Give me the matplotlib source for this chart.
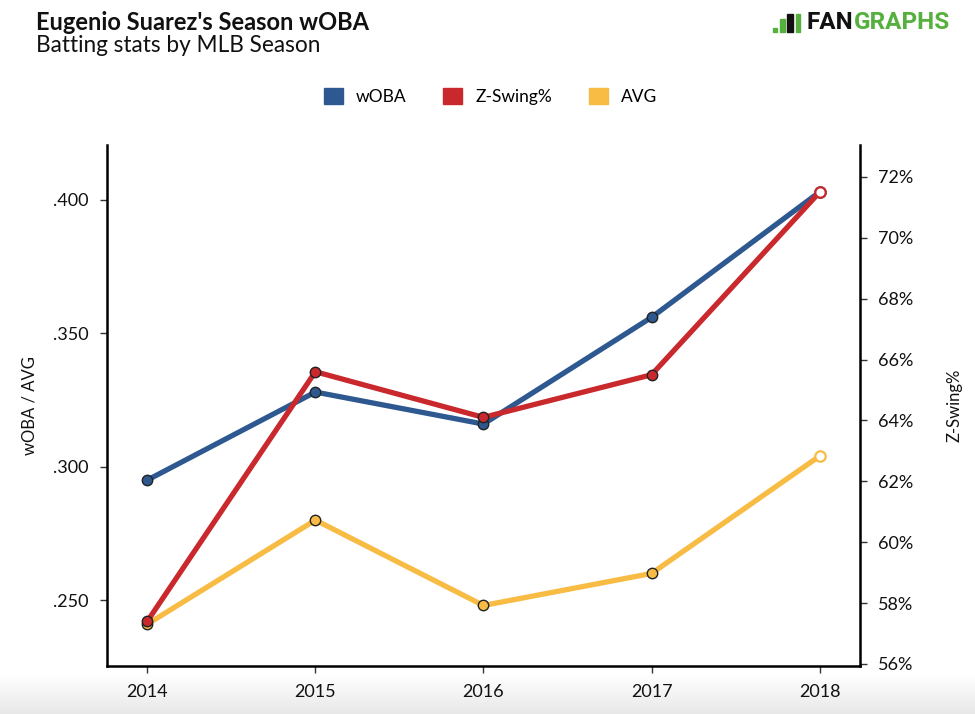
import matplotlib
matplotlib.use("Agg")
import matplotlib.pyplot as plt
import numpy as np
from matplotlib.ticker import FuncFormatter, FixedLocator
from matplotlib.patches import Rectangle
from matplotlib.colors import LinearSegmentedColormap

seasons = [2014, 2015, 2016, 2017, 2018]
woba = [0.295, 0.328, 0.316, 0.356, 0.403]
avg = [0.241, 0.280, 0.248, 0.260, 0.304]
zswing = [57.4, 65.6, 64.1, 65.5, 71.5]

left_ticks = [0.250, 0.300, 0.350, 0.400]
right_ticks = [56, 58, 60, 62, 64, 66, 68, 70, 72]

C_BLUE = "#2d5890"
C_RED = "#c9282d"
C_YEL = "#f8bb44"

plt.rcParams['font.family'] = ['Lato', 'DejaVu Sans']

fig = plt.figure(figsize=(9.75, 7.14), dpi=100)

# bottom grey band (screenshot edge)
bg = fig.add_axes([0, 0, 1, 0.055], zorder=-5)
cm = LinearSegmentedColormap.from_list("g", ["#ffffff", "#e8e8e8"])
grad = np.linspace(0.0, 1.0, 50).reshape(-1, 1)
bg.imshow(grad, aspect='auto', cmap=cm, vmin=0, vmax=1, extent=[0, 1, 0, 1])
bg.axis('off')

ax = fig.add_axes([0.1097, 0.0672, 0.7723, 0.7297])
ax.patch.set_alpha(0)
ax2 = ax.twinx()

def draw(a, y, color):
    a.plot(seasons, y, color=color, lw=3.8, solid_capstyle='round', zorder=2)
    a.plot(seasons[:-1], y[:-1], 'o', ms=7.5, mfc=color, mec='#222222', mew=1.0, zorder=3)
    a.plot(seasons[-1:], y[-1:], 'o', ms=7.5, mfc='white', mec=color, mew=1.6, zorder=3)

draw(ax, woba, C_BLUE)
draw(ax, avg, C_YEL)
draw(ax2, zswing, C_RED)

ax.set_xlim(2013.76, 2018.24)
ax.set_ylim(0.2253, 0.4206)
ax2.set_ylim(55.93, 73.05)

ax.xaxis.set_major_locator(FixedLocator(seasons))
ax.set_xticklabels([str(s) for s in seasons])
ax.yaxis.set_major_locator(FixedLocator(left_ticks))
ax.yaxis.set_major_formatter(FuncFormatter(lambda v, p: ("%.3f" % v)[1:]))
ax2.yaxis.set_major_locator(FixedLocator(right_ticks))
ax2.yaxis.set_major_formatter(FuncFormatter(lambda v, p: "%d%%" % round(v)))

for a in (ax, ax2):
    a.spines['top'].set_visible(False)
    for s in ('left', 'right', 'bottom'):
        a.spines[s].set_linewidth(1.8)
        a.spines[s].set_color('black')
    a.tick_params(axis='both', length=5, width=1, color='#333333', labelsize=13, labelcolor='#111111', pad=8)
ax.spines['right'].set_visible(False)
ax2.spines['left'].set_visible(False)
ax2.spines['bottom'].set_visible(False)

ax.set_ylabel("wOBA / AVG", fontsize=12, color='#111111', labelpad=11)
ax2.set_ylabel("Z-Swing%", fontsize=12, color='#111111', labelpad=24)

# Title
fig.text(0.037, 0.968, "Eugenio Suarez's Season wOBA", fontsize=17, fontweight='bold', color='#111111', va='center')
fig.text(0.037, 0.936, "Batting stats by MLB Season", fontsize=16.3, color='#111111', va='center')

# Legend
handles = [Rectangle((0, 0), 1, 1, color=c) for c in (C_BLUE, C_RED, C_YEL)]
fig.legend(handles, ["wOBA", "Z-Swing%", "AVG"], loc='center', bbox_to_anchor=(0.503, 0.865),
           ncol=3, frameon=False, fontsize=12.5, handlelength=1.1, handleheight=1.1,
           columnspacing=2.1, handletextpad=0.75)

# FanGraphs logo
t1 = fig.text(0.827, 0.968, "FAN", fontsize=17.5, fontweight='bold', color='#111111', va='center', family=['Roboto', 'DejaVu Sans'])
fig.canvas.draw()
bb = t1.get_window_extent()
x2 = bb.x1 / fig.bbox.width + 0.001
fig.text(x2, 0.968, "GRAPHS", fontsize=17.5, fontweight='bold', color='#55b03d', va='center', family=['Roboto', 'DejaVu Sans'])
fig.patches.append(Rectangle((0.793, 0.955), 0.004, 0.006, transform=fig.transFigure, color='#55b03d'))
fig.patches.append(Rectangle((0.800, 0.955), 0.005, 0.018, transform=fig.transFigure, color='#55b03d'))
fig.patches.append(Rectangle((0.807, 0.955), 0.006, 0.026, transform=fig.transFigure, color='#111111'))
fig.patches.append(Rectangle((0.816, 0.955), 0.005, 0.026, transform=fig.transFigure, color='#55b03d'))

fig.savefig("out.png", dpi=100)
